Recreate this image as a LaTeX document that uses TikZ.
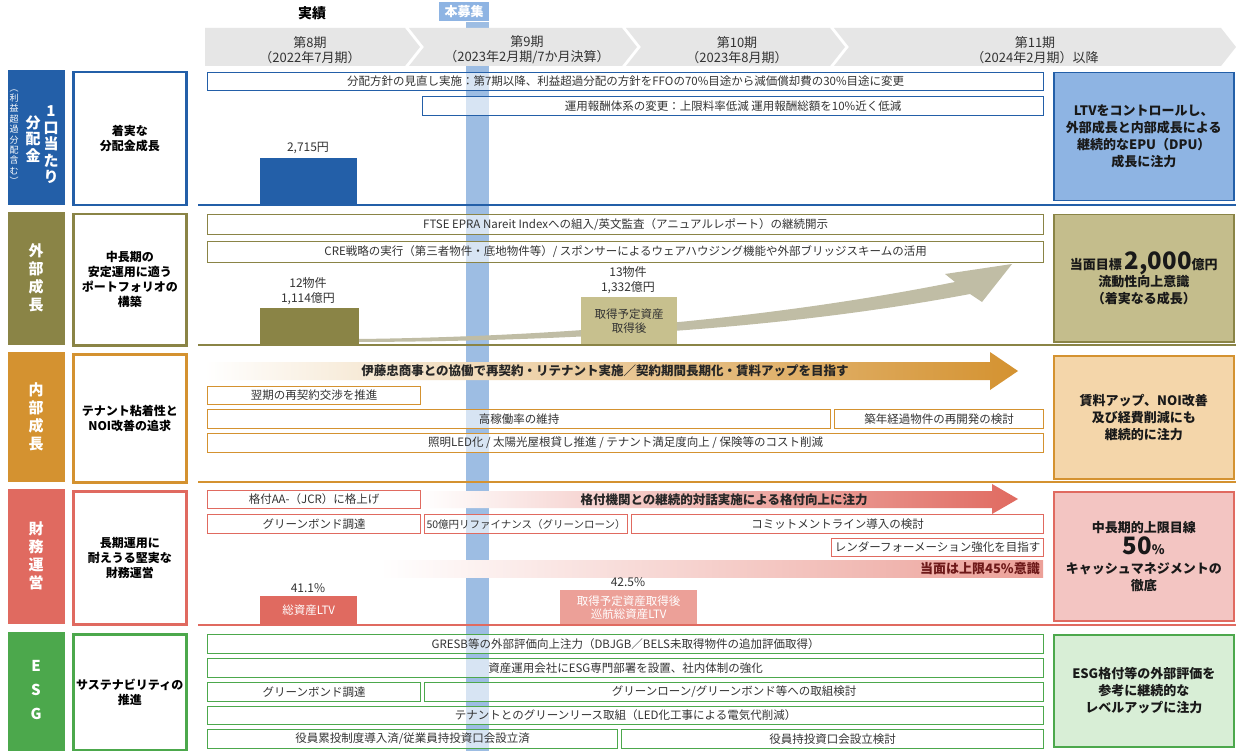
\documentclass[tikz,border=0pt]{standalone}
\usepackage{fontspec}
\setmainfont{Noto Sans CJK JP}
\newlength{\du}
\setlength{\du}{1pt}

\definecolor{blueM}{RGB}{35,95,168}
\definecolor{blueL}{RGB}{142,180,227}
\definecolor{bandc}{RGB}{157,189,227}
\definecolor{oliveM}{RGB}{138,132,70}
\definecolor{oliveL}{RGB}{196,189,140}
\definecolor{oliveB}{RGB}{199,192,142}
\definecolor{swoosh}{RGB}{192,189,165}
\definecolor{orangeM}{RGB}{212,146,48}
\definecolor{orangeL}{RGB}{244,214,170}
\definecolor{redM}{RGB}{224,106,96}
\definecolor{redL}{RGB}{243,197,194}
\definecolor{redB}{RGB}{236,160,152}
\definecolor{redT}{RGB}{110,25,25}
\definecolor{greenM}{RGB}{76,168,76}
\definecolor{greenL}{RGB}{216,238,214}
\definecolor{chev}{RGB}{230,230,230}
\definecolor{txt}{RGB}{51,51,51}

\tikzset{
  cbox/.style={draw=#1, line width=1.2pt, fill=white, fill opacity=0.6, text opacity=1,
    anchor=north west, inner sep=0pt, text=txt, font=\fontsize{11.5}{12}\selectfont},
  sidebox/.style={fill=#1, anchor=north west, inner sep=0pt},
  sidetext/.style={text=white, align=center, inner sep=0pt, font=\bfseries\fontsize{15}{18}\selectfont},
  themebox/.style={draw=#1, line width=2.5pt, fill=white, anchor=north west, inner sep=0pt,
    align=center, font=\bfseries\fontsize{12}{15}\selectfont},
  goalbox/.style={draw=#1, line width=1.5pt, anchor=north west, inner sep=0pt,
    align=center, text=black!90, font=\bfseries\fontsize{13}{17}\selectfont},
  bar/.style={fill=#1, anchor=north west, inner sep=0pt, align=center},
  val/.style={anchor=south, inner sep=0pt, align=center, text=txt, font=\fontsize{12}{15}\selectfont},
  period/.style={align=center, inner sep=0pt, text=txt, font=\fontsize{13}{15}\selectfont},
  baseline/.style={draw=#1, line width=1.5pt},
}

\begin{document}
\begin{tikzpicture}
\pgftransformxscale{1.000000}
\pgftransformyscale{-1.000000}
\fill[white] (0\du,0\du) rectangle (1236\du,751\du);
\useasboundingbox (0\du,0\du) rectangle (1236\du,751\du);
% offering band
\fill[bandc] (466\du,22\du) rectangle (489\du,751\du);
\node[fill=blueL, minimum width=50\du, minimum height=19\du, inner sep=0pt, text=white,
  font=\bfseries\fontsize{13}{15}\selectfont] (offer) at (464\du,12\du) {本募集};
\node[inner sep=0pt, font=\bfseries\fontsize{14}{16}\selectfont] (actual) at (312\du,13\du) {実績};
% period chevrons
\fill[chev] (205\du,28\du)--(405\du,28\du)--(420\du,47\du)--(405\du,66\du)--(205\du,66\du)--cycle;
\fill[chev] (409\du,28\du)--(622\du,28\du)--(637\du,47\du)--(622\du,66\du)--(409\du,66\du)--(424\du,47\du)--cycle;
\fill[chev] (626\du,28\du)--(830\du,28\du)--(845\du,47\du)--(830\du,66\du)--(626\du,66\du)--(641\du,47\du)--cycle;
\fill[chev] (834\du,28\du)--(1221\du,28\du)--(1236\du,47\du)--(1221\du,66\du)--(834\du,66\du)--(849\du,47\du)--cycle;
\node[period] (p8) at (310\du,50\du) {第8期\\（2022年7月期）};
\node[period] (p9) at (527\du,50\du) {第9期\\（2023年2月期/7か月決算）};
\node[period] (p10) at (737\du,50\du) {第10期\\（2023年8月期）};
\node[period] (p11) at (1035\du,50\du) {第11期\\（2024年2月期）以降};

% row 1: distribution
\node[sidebox=blueM, minimum width=57\du, minimum height=135\du] (side1) at (8\du,70\du) {};
\node[sidetext, font=\bfseries\fontsize{15}{16.5}\selectfont] (side1a) at (51\du,145\du) {1\\口\\当\\た\\り};
\node[sidetext, font=\bfseries\fontsize{15}{16.5}\selectfont] (side1b) at (33\du,139\du) {分\\配\\金};
\node[sidetext, font=\fontsize{9}{10.4}\selectfont] (side1c) at (14\du,137\du) {︵\\利\\益\\超\\過\\分\\配\\含\\む\\︶};
\node[themebox=blueM, minimum width=113\du, minimum height=133\du] (theme1) at (72\du,71\du) {着実な\\分配金成長};
\node[cbox=blueM, minimum width=836\du, minimum height=18\du] (dpolicy) at (207\du,72\du) {分配方針の見直し実施：第7期以降、利益超過分配の方針をFFOの70\%目途から減価償却費の30\%目途に変更};
\node[cbox=blueM, minimum width=621\du, minimum height=19\du] (afee) at (422\du,96\du) {運用報酬体系の変更：上限料率低減 運用報酬総額を10\%近く低減};
\node[bar=blueM, minimum width=97\du, minimum height=47\du] (dpu8) at (260\du,158\du) {};
\node[val] (dpu8v) at (308\du,154\du) {2,715円};
\node[goalbox=blueM, fill=blueL, minimum width=180\du, minimum height=128\du] (goal1) at (1053\du,72\du) {LTVをコントロールし、\\外部成長と内部成長による\\継続的なEPU（DPU）\\成長に注力};
\draw[baseline=blueM] (198\du,205\du) -- (1236\du,205\du);

% row 2: external growth
\node[sidebox=oliveM, minimum width=57\du, minimum height=133\du] (side2) at (8\du,212\du) {};
\node[sidetext] (side2a) at (36\du,278\du) {外\\部\\成\\長};
\node[themebox=oliveM, minimum width=113\du, minimum height=131\du] (theme2) at (72\du,213\du) {中長期の\\安定運用に適う\\ポートフォリオの\\構築};
\node[cbox=oliveM, minimum width=836\du, minimum height=20\du] (ftse) at (207\du,214\du) {FTSE EPRA Nareit Indexへの組入/英文監査（アニュアルレポート）の継続開示};
\node[cbox=oliveM, minimum width=836\du, minimum height=21\du] (cre) at (207\du,241\du) {CRE戦略の実行（第三者物件・底地物件等）/ スポンサーによるウェアハウジング機能や外部ブリッジスキームの活用};
% growth swoosh
\fill[swoosh] (359\du,342\du) .. controls (600\du,341\du) and (800\du,326\du) .. (970\du,294\du)
  -- (982\du,302\du) -- (1012\du,264\du) -- (945\du,274\du) -- (955\du,282\du)
  .. controls (800\du,313\du) and (600\du,336\du) .. (359\du,339\du) -- cycle;
\node[bar=oliveM, minimum width=99\du, minimum height=37\du] (aum8) at (260\du,308\du) {};
\node[val] (aum8v) at (308\du,305\du) {12物件\\1,114億円};
\node[bar=oliveB, minimum width=96\du, minimum height=48\du, text=txt, font=\fontsize{11.5}{14}\selectfont] (aum10) at (581\du,297\du) {取得予定資産\\取得後};
\node[val] (aum10v) at (628\du,294\du) {13物件\\1,332億円};
\node[goalbox=oliveM, fill=oliveL, minimum width=180\du, minimum height=127\du] (goal2) at (1053\du,214\du) {当面目標 {\fontsize{24}{24}\selectfont 2,000}億円\\流動性向上意識\\（着実なる成長）};
\draw[baseline=oliveM] (198\du,345\du) -- (1236\du,345\du);

% row 3: internal growth
\node[sidebox=orangeM, minimum width=57\du, minimum height=130\du] (side3) at (8\du,352\du) {};
\node[sidetext] (side3a) at (36\du,417\du) {内\\部\\成\\長};
\node[themebox=orangeM, minimum width=113\du, minimum height=128\du] (theme3) at (72\du,353\du) {テナント粘着性と\\NOI改善の追求};
\shade[left color=white, right color=orangeM] (205\du,362\du)--(990\du,362\du)--(990\du,352\du)--(1018\du,371\du)--(990\du,390\du)--(990\du,380\du)--(205\du,380\du)--cycle;
\node[inner sep=0pt, font=\bfseries\fontsize{12.5}{14}\selectfont, text=black!85] (itochu) at (605\du,371\du) {伊藤忠商事との協働で再契約・リテナント実施／契約期間長期化・賃料アップを目指す};
\node[cbox=orangeM, minimum width=213\du, minimum height=18\du] (renew) at (207\du,386\du) {翌期の再契約交渉を推進};
\node[cbox=orangeM, minimum width=623\du, minimum height=19\du] (occup) at (207\du,409\du) {高稼働率の維持};
\node[cbox=orangeM, minimum width=209\du, minimum height=19\du] (redev) at (834\du,409\du) {築年経過物件の再開発の検討};
\node[cbox=orangeM, minimum width=836\du, minimum height=19\du] (cost) at (207\du,433\du) {照明LED化 / 太陽光屋根貸し推進 / テナント満足度向上 / 保険等のコスト削減};
\node[goalbox=orangeM, fill=orangeL, minimum width=180\du, minimum height=123\du] (goal3) at (1053\du,355\du) {賃料アップ、NOI改善\\及び経費削減にも\\継続的に注力};
\draw[baseline=orangeM] (198\du,482\du) -- (1236\du,482\du);

% row 4: finance
\node[sidebox=redM, minimum width=57\du, minimum height=135\du] (side4) at (8\du,489\du) {};
\node[sidetext] (side4a) at (36\du,556\du) {財\\務\\運\\営};
\node[themebox=redM, minimum width=113\du, minimum height=133\du] (theme4) at (72\du,490\du) {長期運用に\\耐えうる堅実な\\財務運営};
\shade[left color=white, right color=redM] (420\du,491\du)--(992\du,491\du)--(992\du,484\du)--(1018\du,499\du)--(992\du,514\du)--(992\du,508\du)--(420\du,508\du)--cycle;
\node[inner sep=0pt, font=\bfseries\fontsize{12.5}{14}\selectfont, text=black!85] (rating) at (724\du,500\du) {格付機関との継続的対話実施による格付向上に注力};
\node[cbox=redM, minimum width=213\du, minimum height=18\du] (aaminus) at (207\du,490\du) {格付AA-（JCR）に格上げ};
\node[cbox=redM, minimum width=213\du, minimum height=19\du] (gbond) at (207\du,514\du) {グリーンボンド調達};
\node[cbox=redM, minimum width=203\du, minimum height=19\du, font=\fontsize{10.5}{12}\selectfont] (refi) at (424\du,514\du) {50億円リファイナンス（グリーンローン）};
\node[cbox=redM, minimum width=412\du, minimum height=19\du] (commit) at (631\du,514\du) {コミットメントライン導入の検討};
\node[cbox=redM, minimum width=212\du, minimum height=18\du] (lender) at (831\du,538\du) {レンダーフォーメーション強化を目指す};
\shade[left color=white, right color=redB] (380\du,560\du) rectangle (1043\du,577\du);
\node[anchor=east, inner sep=0pt, font=\bfseries\fontsize{13}{15}\selectfont, text=redT] (cap45) at (1040\du,569\du) {当面は上限45\%意識};
\node[bar=redM, minimum width=97\du, minimum height=28\du, text=white, font=\fontsize{11.5}{13}\selectfont] (ltv8) at (260\du,596\du) {総資産LTV};
\node[val] (ltv8v) at (308\du,593\du) {41.1\%};
\node[bar=redB, minimum width=137\du, minimum height=34\du, text=white, font=\fontsize{11.5}{13}\selectfont] (ltv10) at (560\du,590\du) {取得予定資産取得後\\巡航総資産LTV};
\node[val] (ltv10v) at (628\du,587\du) {42.5\%};
\node[goalbox=redM, fill=redL, minimum width=180\du, minimum height=129\du] (goal4) at (1053\du,491\du) {中長期的上限目線\\[2\du]{\fontsize{24}{24}\selectfont 50}\%\\[2\du]キャッシュマネジメントの\\徹底};
\draw[baseline=redM] (198\du,625\du) -- (1236\du,625\du);

% row 5: ESG
\node[sidebox=greenM, minimum width=57\du, minimum height=119\du] (side5) at (8\du,632\du) {};
\node[sidetext, font=\bfseries\fontsize{15}{24}\selectfont] (side5a) at (36\du,690\du) {E\\S\\G};
\node[themebox=greenM, minimum width=113\du, minimum height=116\du] (theme5) at (72\du,633\du) {サステナビリティの\\推進};
\node[cbox=greenM, minimum width=836\du, minimum height=19\du] (gresb) at (207\du,634\du) {GRESB等の外部評価向上注力（DBJGB／BELS未取得物件の追加評価取得）};
\node[cbox=greenM, minimum width=836\du, minimum height=19\du] (esgdept) at (207\du,658\du) {資産運用会社にESG専門部署を設置、社内体制の強化};
\node[cbox=greenM, minimum width=213\du, minimum height=19\du] (gbond2) at (207\du,682\du) {グリーンボンド調達};
\node[cbox=greenM, minimum width=619\du, minimum height=19\du] (gloan) at (424\du,682\du) {グリーンローン/グリーンボンド等への取組検討};
\node[cbox=greenM, minimum width=836\du, minimum height=18\du] (glease) at (207\du,706\du) {テナントとのグリーンリース取組（LED化工事による電気代削減）};
\node[cbox=greenM, minimum width=410\du, minimum height=19\du] (esop) at (207\du,729\du) {役員累投制度導入済/従業員持投資口会設立済};
\node[cbox=greenM, minimum width=422\du, minimum height=19\du] (board) at (621\du,729\du) {役員持投資口会設立検討};
\node[goalbox=greenM, fill=greenL, minimum width=180\du, minimum height=112\du] (goal5) at (1053\du,634\du) {ESG格付等の外部評価を\\参考に継続的な\\レベルアップに注力};
\end{tikzpicture}
\end{document}
